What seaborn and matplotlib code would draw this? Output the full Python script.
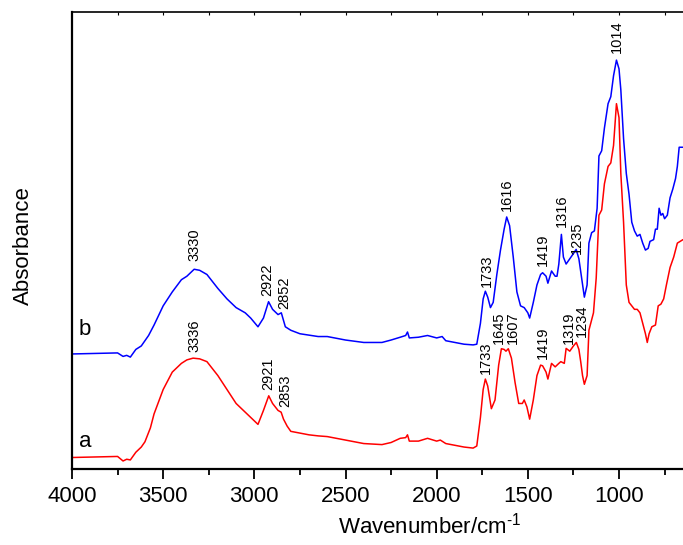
import numpy as np
import pandas as pd
import matplotlib
matplotlib.use("Agg")
import matplotlib.pyplot as plt
import seaborn as sns

# ---- data ----
wn_b = [4000, 3750, 3720, 3700, 3680, 3650, 3620, 3580, 3550, 3500, 3450, 3400, 3370, 3330, 3300, 3260,
        3200, 3150, 3100, 3050, 3020, 2980, 2950, 2922, 2900, 2870, 2852, 2830, 2800, 2750, 2650, 2600,
        2500, 2400, 2300, 2250, 2200, 2170, 2160, 2150, 2100, 2050, 2000, 1970, 1950, 1900, 1850, 1800,
        1780, 1760, 1745, 1733, 1720, 1705, 1690, 1670, 1650, 1630, 1616, 1600, 1580, 1560, 1540, 1520,
        1500, 1490, 1470, 1450, 1430, 1419, 1400, 1390, 1370, 1350, 1340, 1330, 1316, 1305, 1290, 1270,
        1250, 1235, 1220, 1205, 1190, 1175, 1165, 1150, 1135, 1120, 1110, 1095, 1080, 1060, 1045, 1030,
        1014, 1000, 990, 975, 960, 945, 930, 915, 900, 885, 870, 855, 840, 830, 810, 800, 790, 780, 770,
        760, 750, 735, 720, 705, 690, 680, 670, 649]
abs_b = [3.30, 3.33, 3.23, 3.26, 3.21, 3.43, 3.53, 3.83, 4.13, 4.68, 5.08, 5.43, 5.53, 5.73, 5.70, 5.58,
         5.18, 4.88, 4.63, 4.48, 4.33, 4.08, 4.33, 4.80, 4.58, 4.43, 4.48, 4.08, 3.98, 3.88, 3.80, 3.80,
         3.70, 3.63, 3.63, 3.70, 3.78, 3.83, 3.93, 3.76, 3.78, 3.83, 3.76, 3.80, 3.68, 3.63, 3.58, 3.56,
         3.58, 4.18, 4.88, 5.10, 4.93, 4.63, 4.78, 5.58, 6.28, 6.88, 7.23, 6.98, 6.08, 5.08, 4.68, 4.63,
         4.48, 4.33, 4.78, 5.28, 5.58, 5.63, 5.53, 5.33, 5.68, 5.53, 5.53, 5.88, 6.73, 6.08, 5.88, 6.03,
         6.18, 6.30, 6.03, 5.48, 4.93, 5.28, 6.48, 6.78, 6.83, 7.48, 8.98, 9.13, 9.78, 10.48, 10.68, 11.28,
         11.73, 11.48, 10.88, 9.48, 8.48, 7.88, 7.08, 6.83, 6.68, 6.73, 6.48, 6.28, 6.33, 6.53, 6.58, 6.88,
         6.88, 7.48, 7.28, 7.33, 7.18, 7.28, 7.78, 8.03, 8.33, 8.68, 9.23, 9.23]

wn_a = [4000, 3750, 3720, 3700, 3680, 3650, 3620, 3600, 3570, 3550, 3500, 3450, 3400, 3370, 3336, 3300,
        3260, 3200, 3150, 3100, 3050, 3000, 2980, 2950, 2921, 2900, 2870, 2853, 2840, 2820, 2800, 2700,
        2650, 2600, 2500, 2400, 2300, 2250, 2200, 2170, 2160, 2150, 2100, 2050, 2000, 1980, 1950, 1900,
        1850, 1800, 1780, 1760, 1745, 1733, 1720, 1700, 1680, 1660, 1645, 1630, 1620, 1607, 1590, 1570,
        1550, 1530, 1520, 1505, 1490, 1470, 1450, 1430, 1419, 1400, 1390, 1370, 1350, 1330, 1319, 1300,
        1290, 1270, 1250, 1234, 1220, 1210, 1200, 1190, 1175, 1165, 1150, 1140, 1125, 1110, 1095, 1080,
        1060, 1045, 1030, 1014, 1000, 990, 975, 960, 945, 930, 915, 900, 885, 870, 855, 845, 835, 820,
        800, 785, 770, 755, 740, 720, 700, 690, 680, 649]
abs_a = [0.33, 0.36, 0.23, 0.28, 0.26, 0.48, 0.63, 0.78, 1.18, 1.58, 2.28, 2.78, 3.03, 3.13, 3.18, 3.16,
         3.08, 2.68, 2.28, 1.88, 1.63, 1.38, 1.28, 1.68, 2.10, 1.88, 1.68, 1.63, 1.43, 1.23, 1.08, 0.98,
         0.95, 0.93, 0.83, 0.73, 0.70, 0.76, 0.88, 0.90, 0.98, 0.80, 0.80, 0.88, 0.80, 0.83, 0.73, 0.68,
         0.63, 0.60, 0.66, 1.48, 2.28, 2.58, 2.38, 1.73, 1.98, 2.98, 3.45, 3.43, 3.38, 3.45, 3.18, 2.48,
         1.88, 1.88, 1.98, 1.78, 1.43, 1.98, 2.68, 2.98, 2.96, 2.78, 2.58, 3.03, 2.93, 3.03, 3.08, 3.03,
         3.46, 3.38, 3.53, 3.63, 3.43, 3.08, 2.68, 2.43, 2.68, 3.98, 4.28, 4.48, 5.48, 7.28, 7.43, 8.18,
         8.68, 8.78, 9.28, 10.48, 10.08, 8.48, 7.08, 5.28, 4.78, 4.68, 4.58, 4.58, 4.48, 4.18, 3.88, 3.63,
         3.88, 4.08, 4.13, 4.68, 4.73, 4.88, 5.28, 5.78, 6.08, 6.28, 6.48, 6.58]

# peak annotations: label, text x (wavenumber), text base (absorbance)
peaks_b_lab = ["3330", "2922", "2852", "1733", "1616", "1419", "1316", "1235", "1014"]
peaks_b_x = [3327, 2927, 2836, 1726, 1617, 1416, 1316, 1230, 1011]
peaks_b_y = [5.96, 4.96, 4.58, 5.23, 7.40, 5.83, 6.93, 6.18, 11.93]
peaks_a_lab = ["3336", "2921", "2853", "1733", "1645", "1607", "1419", "1319", "1234"]
peaks_a_x = [3327, 2922, 2833, 1732, 1657, 1580, 1416, 1276, 1201]
peaks_a_y = [3.36, 2.26, 1.78, 2.73, 3.60, 3.58, 3.16, 3.58, 3.78]

curve_names = ["a", "b"]
curve_name_x = [3929, 3929]
curve_name_y = [0.80, 3.99]

xticks = [4000, 3500, 3000, 2500, 2000, 1500, 1000]

df = pd.concat([
    pd.DataFrame({"wn": wn_a, "A": abs_a, "s": "a"}),
    pd.DataFrame({"wn": wn_b, "A": abs_b, "s": "b"}),
])

sns.set_style("ticks", {"axes.edgecolor": "black", "xtick.color": "black",
                        "ytick.color": "black", "text.color": "black",
                        "axes.labelcolor": "black"})
plt.rcParams["font.family"] = ["Liberation Sans", "DejaVu Sans"]
plt.rcParams["mathtext.fontset"] = "custom"
plt.rcParams["mathtext.rm"] = "Liberation Sans"

fig = plt.figure(figsize=(6.83, 5.45), dpi=100)
ax = fig.add_axes([72 / 683, 1 - 469 / 545, 611 / 683, 457 / 545])

sns.lineplot(data=df, x="wn", y="A", hue="s", palette={"a": "#ff0000", "b": "#0000ff"},
             sort=False, estimator=None, lw=1.1, legend=False, ax=ax)

ax.set_xlim(4000, 649)
ax.set_ylim(0, 13.11)
ax.set_xticks(xticks)
ax.set_xticks(np.arange(3750, 600, -500), minor=True)
ax.set_yticks([])
ax.tick_params(axis="x", which="major", direction="out", length=7, width=1.3,
               labelsize=16, pad=5, colors="black")
ax.tick_params(axis="x", which="minor", direction="out", length=4, width=1.3, colors="black")
ax.spines["right"].set_visible(False)
for s in ["left", "bottom", "top"]:
    ax.spines[s].set_color("black")
for s in ["left", "bottom"]:
    ax.spines[s].set_linewidth(1.6)
ax.spines["top"].set_linewidth(1.2)

# tiny inward ticks on the top spine
sec = ax.secondary_xaxis("top")
sec.set_xticks(np.arange(3750, 600, -250))
sec.tick_params(direction="in", length=2, width=0.8, labeltop=False, colors="black")
sec.spines["top"].set_visible(False)

for lab, x, y in zip(peaks_b_lab, peaks_b_x, peaks_b_y):
    ax.text(x, y, lab, rotation=90, ha="center", va="bottom", fontsize=10.5, color="black")
for lab, x, y in zip(peaks_a_lab, peaks_a_x, peaks_a_y):
    ax.text(x, y, lab, rotation=90, ha="center", va="bottom", fontsize=10.5, color="black")
for lab, x, y in zip(curve_names, curve_name_x, curve_name_y):
    ax.text(x, y, lab, ha="center", va="center", fontsize=16, color="black")

ax.set_xlabel(r"Wavenumber/cm$^{\text{-1}}$", fontsize=16, color="black")
ax.set_ylabel("Absorbance", fontsize=16, color="black")
ax.xaxis.set_label_coords(0.586, -0.095)
ax.yaxis.set_label_coords(-0.062, 0.49)

fig.savefig("out.png", dpi=100)
